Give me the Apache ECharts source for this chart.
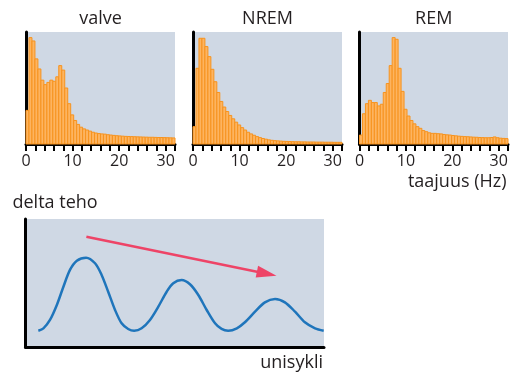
<!DOCTYPE html>
<html>
<head>
<meta charset="utf-8">
<title>delta teho</title>
<script src="https://cdn.jsdelivr.net/npm/echarts@6/dist/echarts.min.js"></script>
<style>
	html, body { margin: 0; padding: 0; background: #fff; }
	#chart { width: 516px; height: 376px; }
</style>
</head>
<body>
<div id="chart"></div>
<script>
	// taajuusjakaumat, 50 palkkia välillä 0-32 Hz
	var binWidth = 0.64;
	var valveVals = [30, 95, 92, 76, 67, 57, 53, 55, 57, 56,
		60, 70, 66, 50, 36, 26, 21, 17.5, 15, 13.5,
		12.5, 11.5, 10.5, 9.8, 9.3, 9, 8.8, 8.3, 8, 7.7,
		7.4, 7.2, 7, 6.8, 6.7, 6.6, 6.5, 6.4, 6.3, 6.2,
		6.1, 6, 6, 5.9, 5.8, 5.8, 5.7, 5.6, 5.5, 5.4];
	var nremVals = [15.5, 67.6, 94.4, 94.4, 87, 78, 66.7, 55.6, 46, 38,
		33, 29, 25.5, 22.5, 19.5, 17, 14.6, 12.5, 10.5, 9,
		7.8, 6.6, 5.7, 4.9, 4.3, 3.7, 3.3, 3, 2.8, 2.6,
		2.4, 2.3, 2.2, 2.1, 2, 2, 1.9, 1.9, 1.8, 1.8,
		1.8, 1.7, 1.7, 1.7, 1.6, 1.6, 1.6, 1.5, 1.5, 1.5];
	var remVals = [8, 27, 36, 39, 37, 37, 34, 35.5, 46, 54,
		70, 95, 93.5, 67.6, 47, 31, 25, 21, 18, 15.5,
		14, 12, 11, 10, 9.5, 9.5, 9.2, 9, 8.5, 8.2,
		8, 7.6, 7.3, 7, 6.8, 6.6, 6.5, 6.3, 6.1, 6,
		5.8, 5.7, 5.6, 5.6, 5.8, 6.3, 5.6, 5.2, 5, 4.8];
	var freqLabels = [0, 10, 20, 30];
	var panelTitles = ['valve', 'NREM', 'REM'];

	// delta teho unisyklin aikana (suhteellinen asteikko 0-100), luettu kuvasta
	var cycleX = [4.3, 6.0, 8.2, 10.5, 12.7, 14.9, 17.2, 20.3, 23.3, 25.5,
		27.7, 30.0, 32.2, 34.4, 36.4, 38.9, 41.7, 44.5, 47.3, 49.5,
		52.3, 55.1, 57.9, 60.7, 63.5, 65.7, 67.9, 70.8, 73.5, 76.9,
		80.2, 83.6, 86.9, 90.3, 93.6, 97.0, 99.9];
	var deltaY = [12.7, 14.6, 21.1, 32.8, 47.1, 60.2, 67.4, 69.8, 65.4, 56.3,
		43.2, 28.9, 18.5, 14.1, 12.7, 14.6, 21.1, 31.5, 43.2, 49.8,
		52.3, 49.0, 40.6, 28.9, 18.5, 14.1, 12.7, 14.6, 19.3, 27.6,
		34.9, 37.5, 34.9, 27.6, 19.3, 14.6, 12.7];
	var arrowStart = [20.4, 86.2];
	var arrowEnd = [80.8, 57.3];

	var panelBg = '#cfd8e4';
	var textColor = '#231f20';
	var fontName = '"Open Sans", sans-serif';

	var myChart = echarts.init(document.getElementById('chart'), null, { renderer: 'canvas' });

	var toBins = function(vals) {
		return vals.map(function(v, i) {
			return [i * binWidth, (i + 1) * binWidth, v];
		});
	};

	var renderBar = function(params, api) {
		var p0 = api.coord([api.value(0), api.value(2)]);
		var p1 = api.coord([api.value(1), 0]);
		return {
			type: 'rect',
			shape: { x: p0[0], y: p0[1], width: p1[0] - p0[0], height: p1[1] - p0[1] },
			style: { fill: '#fdb460', stroke: '#f7931e', lineWidth: 1 }
		};
	};

	var blackLine = { show: true, onZero: false, lineStyle: { color: '#000', width: 3 } };

	// paneelien paikat
	var grids = [
		{ left: 26, top: 32, width: 149, height: 112 },
		{ left: 193, top: 32, width: 149, height: 112 },
		{ left: 359.5, top: 32, width: 148.5, height: 112 },
		{ left: 25.5, top: 219, width: 298.5, height: 128 }
	];
	grids.forEach(function(g) {
		g.show = true;
		g.backgroundColor = panelBg;
		g.borderWidth = 0;
		g.containLabel = false;
		g.outerBoundsMode = 'none';
	});

	var xAxes = [], yAxes = [], series = [], graphics = [];
	[valveVals, nremVals, remVals].forEach(function(vals, k) {
		xAxes.push({
			gridIndex: k,
			type: 'value',
			min: 0,
			max: 32,
			interval: 2,
			axisLine: blackLine,
			axisTick: { show: true, length: 7, lineStyle: { color: '#000', width: 2 } },
			axisLabel: {
				show: true,
				margin: 9,
				fontSize: 16,
				fontFamily: fontName,
				color: textColor,
				formatter: function(v) {
					return freqLabels.indexOf(v) >= 0 ? String(v) : '';
				}
			},
			splitLine: { show: false }
		});
		yAxes.push({
			gridIndex: k,
			type: 'value',
			min: 0,
			max: 100,
			axisLine: blackLine,
			axisTick: { show: false },
			axisLabel: { show: false },
			splitLine: { show: false }
		});
		series.push({
			type: 'custom',
			xAxisIndex: k,
			yAxisIndex: k,
			renderItem: renderBar,
			encode: { x: [0, 1], y: 2 },
			data: toBins(vals),
			silent: true
		});
		var g = grids[k];
		graphics.push({
			type: 'text',
			style: {
				text: panelTitles[k],
				x: g.left + g.width / 2,
				y: 18.5,
				textAlign: 'center',
				textVerticalAlign: 'middle',
				font: '18px ' + fontName,
				fill: textColor
			}
		});
	});

	// alarivin paneeli: delta teho
	xAxes.push({
		gridIndex: 3, type: 'value', min: 0, max: 100,
		axisLine: blackLine, axisTick: { show: false }, axisLabel: { show: false }, splitLine: { show: false }
	});
	yAxes.push({
		gridIndex: 3, type: 'value', min: 0, max: 100,
		axisLine: blackLine, axisTick: { show: false }, axisLabel: { show: false }, splitLine: { show: false }
	});
	series.push({
		type: 'line',
		xAxisIndex: 3,
		yAxisIndex: 3,
		data: cycleX.map(function(x, i) { return [x, deltaY[i]]; }),
		smooth: 0.3,
		showSymbol: false,
		lineStyle: { color: '#1f75bb', width: 2.5 },
		silent: true,
		markLine: {
			silent: true,
			symbol: ['none', 'triangle'],
			symbolSize: [12, 20],
			label: { show: false },
			lineStyle: { color: '#ee4467', width: 2.5, type: 'solid' },
			data: [[{ coord: arrowStart }, { coord: arrowEnd }]]
		}
	});

	graphics.push(
		{ type: 'text', style: { text: 'taajuus (Hz)', x: 506.5, y: 181.5, textAlign: 'right', textVerticalAlign: 'middle', font: '18px ' + fontName, fill: textColor } },
		{ type: 'text', style: { text: 'delta teho', x: 12.5, y: 202.5, textAlign: 'left', textVerticalAlign: 'middle', font: '18px ' + fontName, fill: textColor } },
		{ type: 'text', style: { text: 'unisykli', x: 323, y: 363, textAlign: 'right', textVerticalAlign: 'middle', font: '18px ' + fontName, fill: textColor } }
	);

	myChart.setOption({
		animation: false,
		backgroundColor: '#fff',
		grid: grids,
		xAxis: xAxes,
		yAxis: yAxes,
		series: series,
		graphic: graphics
	});
</script>
</body>
</html>
